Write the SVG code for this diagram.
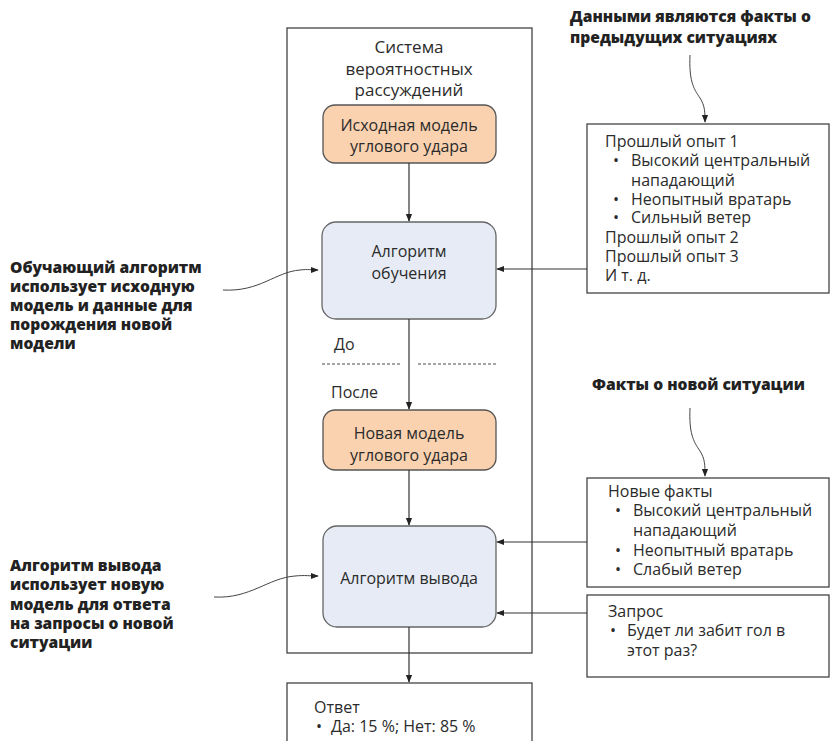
<svg xmlns="http://www.w3.org/2000/svg" width="831" height="741" viewBox="0 0 831 741">
<style>
text{font-family:"Open Sans","Noto Sans",sans-serif;fill:#2b2b2b;font-size:16px}
.b{font-weight:800;font-size:15.6px;fill:#222}
.c{text-anchor:middle}
.frame{fill:#fff;stroke:#444;stroke-width:1.3}
.or{fill:#fad2b0;stroke:#555;stroke-width:1.3}
.bl{fill:#e7ebf5;stroke:#666;stroke-width:1.3}
.ln{fill:none;stroke:#333;stroke-width:1.2}
.cv{fill:none;stroke:#444;stroke-width:1}
.dash{stroke:#888;stroke-width:1.5;stroke-dasharray:3 2}
</style>
<defs>
<marker id="ah" viewBox="0 0 10 10" refX="9" refY="5" markerWidth="8" markerHeight="8" orient="auto" markerUnits="userSpaceOnUse">
<path d="M0,1 L10,5 L0,9 z" fill="#222"/>
</marker>
</defs>
<g id="system">
<rect class="frame" x="287" y="28" width="245" height="625"/>
<text class="c" x="409" y="53" style="font-size:17px">Система</text>
<text class="c" x="409" y="75" style="font-size:17px">вероятностных</text>
<text class="c" x="409" y="96" style="font-size:17px">рассуждений</text>
</g>
<g id="model1">
<rect class="or" x="323" y="105" width="173" height="58" rx="12"/>
<text class="c" x="409" y="131">Исходная модель</text>
<text class="c" x="409" y="152">углового удара</text>
</g>
<g id="learn">
<rect class="bl" x="322" y="222" width="174" height="97" rx="14"/>
<text class="c" x="409" y="257">Алгоритм</text>
<text class="c" x="409" y="279">обучения</text>
</g>
<g id="beforeafter">
<text x="334" y="350">До</text>
<line class="dash" x1="322" y1="364" x2="400" y2="364"/>
<line class="dash" x1="418" y1="364" x2="496" y2="364"/>
<text x="331" y="398">После</text>
</g>
<g id="model2">
<rect class="or" x="323" y="410" width="173" height="60" rx="12"/>
<text class="c" x="409" y="439">Новая модель</text>
<text class="c" x="409" y="461">углового удара</text>
</g>
<g id="infer">
<rect class="bl" x="323" y="526" width="173" height="101" rx="14"/>
<text class="c" x="409" y="584">Алгоритм вывода</text>
</g>
<g id="answer">
<rect class="frame" x="287" y="683" width="245" height="70"/>
<text x="314" y="713">Ответ</text>
<text x="316" y="732">•</text>
<text x="331" y="732">Да: 15 %; Нет: 85 %</text>
</g>
<g id="past">
<rect class="frame" x="587" y="124" width="242" height="169"/>
<text x="605" y="147">Прошлый опыт 1</text>
<text x="613" y="166">•</text><text x="631" y="166">Высокий центральный</text>
<text x="631" y="186">нападающий</text>
<text x="613" y="205">•</text><text x="631" y="205">Неопытный вратарь</text>
<text x="613" y="223">•</text><text x="631" y="223">Сильный ветер</text>
<text x="605" y="243">Прошлый опыт 2</text>
<text x="605" y="262">Прошлый опыт 3</text>
<text x="605" y="281">И т. д.</text>
</g>
<g id="newfacts">
<rect class="frame" x="587" y="478" width="242" height="109"/>
<text x="608" y="497">Новые факты</text>
<text x="615" y="516">•</text><text x="633" y="516">Высокий центральный</text>
<text x="633" y="536">нападающий</text>
<text x="615" y="556">•</text><text x="633" y="556">Неопытный вратарь</text>
<text x="615" y="575">•</text><text x="633" y="575">Слабый ветер</text>
</g>
<g id="query">
<rect class="frame" x="587" y="595" width="242" height="82"/>
<text x="608" y="617">Запрос</text>
<text x="610" y="636">•</text><text x="627" y="636">Будет ли забит гол в</text>
<text x="627" y="656">этот раз?</text>
</g>
<g id="note-data">
<text class="b" x="570" y="22">Данными являются факты о</text>
<text class="b" x="570" y="43">предыдущих ситуациях</text>
</g>
<g id="note-new">
<text class="b" x="592" y="390">Факты о новой ситуации</text>
</g>
<g id="note-learn">
<text class="b" x="10" y="273">Обучающий алгоритм</text>
<text class="b" x="10" y="292">использует исходную</text>
<text class="b" x="10" y="311">модель и данные для</text>
<text class="b" x="10" y="330">порождения новой</text>
<text class="b" x="10" y="349">модели</text>
</g>
<g id="note-infer">
<text class="b" x="10" y="571">Алгоритм вывода</text>
<text class="b" x="10" y="590">использует новую</text>
<text class="b" x="10" y="610">модель для ответа</text>
<text class="b" x="10" y="629">на запросы о новой</text>
<text class="b" x="10" y="648">ситуации</text>
</g>
<g id="connectors">
<line class="ln" x1="409" y1="163" x2="409" y2="221" marker-end="url(#ah)"/>
<line class="ln" x1="409" y1="319" x2="409" y2="409" marker-end="url(#ah)"/>
<line class="ln" x1="409" y1="470" x2="409" y2="525" marker-end="url(#ah)"/>
<line class="ln" x1="409" y1="627" x2="409" y2="682" marker-end="url(#ah)"/>
<line class="ln" x1="587" y1="269" x2="497" y2="269" marker-end="url(#ah)"/>
<line class="ln" x1="587" y1="542" x2="497" y2="542" marker-end="url(#ah)"/>
<line class="ln" x1="587" y1="613" x2="497" y2="613" marker-end="url(#ah)"/>
<path class="cv" d="M690,55 C689,80 693,88 700,98 C705,106 705,112 705,122" marker-end="url(#ah)"/>
<path class="cv" d="M690,408 C689,433 693,441 700,451 C705,459 705,465 705,476" marker-end="url(#ah)"/>
<path class="cv" d="M223,290 C260,292 275,272 300,270 C308,269 312,270 318,270" marker-end="url(#ah)"/>
<path class="cv" d="M214,597 C250,599 268,578 295,576 C305,575 310,576 318,576" marker-end="url(#ah)"/>
</g>
</svg>
